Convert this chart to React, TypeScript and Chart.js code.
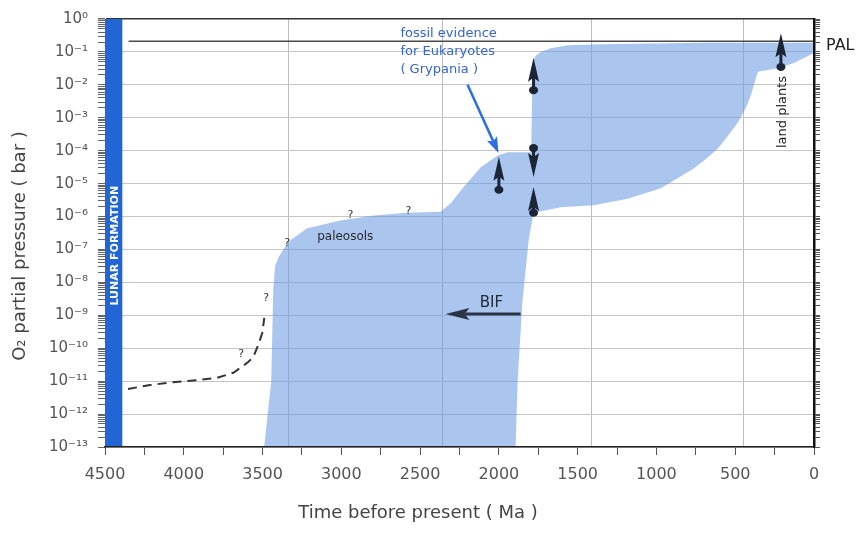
import React, { useEffect, useRef } from "react";
import { Chart, registerables } from "chart.js";

Chart.register(...registerables);

// ---------------- data ----------------
// O2 envelope (closed outline, Ma before present / bar)
const envelopeMa = [3490, 3445, 3432, 3420, 3400, 3369, 3324, 3216, 3006, 2797, 2581, 2371, 2307, 2225, 2117, 2008, 1945, 1795, 1786, 1767, 1735, 1672, 1564, 1354, 700, 0, 0, 127, 229, 356, 400, 432, 483, 547, 610, 686, 763, 972, 1182, 1398, 1608, 1780, 1811, 1850, 1881, 1894];
const envelopeBar = [1e-13, 1e-11, 6.3e-9, 3.2e-8, 5.6e-8, 1.0e-7, 1.9e-7, 4.4e-7, 7.6e-7, 1.07e-6, 1.3e-6, 1.4e-6, 2.5e-6, 7.8e-6, 3.1e-5, 7.2e-5, 8.9e-5, 8.9e-5, 0.046, 0.076, 0.1, 0.13, 0.16, 0.17, 0.19, 0.19, 0.093, 0.046, 0.032, 0.025, 0.0049, 0.002, 7.2e-4, 2.8e-4, 1.17e-4, 5.6e-5, 2.9e-5, 7.2e-6, 3.5e-6, 2.2e-6, 1.9e-6, 1.3e-6, 1.9e-7, 2.8e-9, 1e-11, 1e-13];

// early (dashed) estimate
const earlyMa = [4354, 4214, 4068, 3916, 3788, 3686, 3642, 3591, 3559, 3527, 3502, 3489];
const earlyBar = [5.8e-12, 7.6e-12, 9.3e-12, 1.07e-11, 1.26e-11, 1.8e-11, 2.5e-11, 3.8e-11, 5.4e-11, 1.26e-10, 2.9e-10, 8.3e-10];

// present atmospheric level
const palMa = [4350, 0];
const palBar = [0.21, 0.21];

// axis ticks
const xTickValues = [0, 250, 500, 750, 1000, 1250, 1500, 1750, 2000, 2250, 2500, 2750, 3000, 3250, 3500, 3750, 4000, 4250, 4500];
const xLabelValues = [0, 500, 1000, 1500, 2000, 2500, 3000, 3500, 4000, 4500];
const yDecadeExponents = [0, -1, -2, -3, -4, -5, -6, -7, -8, -9, -10, -11, -12, -13];
const yMinorMultipliers = [1, 2, 3, 4, 5, 6, 7, 8, 9];
const verticalGridMa = [3337, 2358, 1417, 451];

// evidence markers (arrow tip / dot)
const markerMa = [2000, 1780, 1780, 1780, 210];
const markerTipBar = [6.5e-5, 0.066, 1.6e-5, 7.9e-6, 0.37];
const markerBaseBar = [6.5e-6, 6.9e-3, 1.2e-4, 1.3e-6, 0.035];

// question marks
const questionMa = [3636, 3477, 3343, 2943, 2574];
const questionBar = [6.6e-11, 3.3e-9, 1.6e-7, 1.1e-6, 1.5e-6];

// annotations
const lunarFormationMa = [4500, 4390];
const lunarLabelBar = 1.3e-7;
const paleosolsAt = [2975, 2.4e-7];
const bifLabelAt = [2047, 2.3e-9];
const bifArrowMa = [1862, 2339];
const bifArrowBar = [1.1e-9, 1.1e-9];
const eukaryoteLines = ["fossil evidence", "for Eukaryotes", "( Grypania )"];
const eukaryoteLineBar = [0.35, 0.1, 0.028];
const eukaryoteTextMa = 2625;
const eukaryoteArrowMa = [2199, 2002];
const eukaryoteArrowBar = [0.01, 8.5e-5];
const landPlantsAt = [197, 1.5e-3];

// ---------------- helpers ----------------
const FONT = '"DejaVu Sans", "Liberation Sans", Arial, sans-serif';
const SUP: Record<string, string> = { "-": "⁻", "0": "⁰", "1": "¹", "2": "²", "3": "³", "4": "⁴", "5": "⁵", "6": "⁶", "7": "⁷", "8": "⁸", "9": "⁹" };
const sup = (n: number) => String(n).split("").map((c) => SUP[c] || c).join("");
const isDecade = (v: number) => Math.abs(Math.log10(v) - Math.round(Math.log10(v))) < 1e-9;
const yTickValues: number[] = [];
yDecadeExponents.forEach((e) => yMinorMultipliers.forEach((m) => { const v = m * Math.pow(10, e); if (v <= 1.0000001) yTickValues.push(v); }));

function arrow(ctx: CanvasRenderingContext2D, x1: number, y1: number, x2: number, y2: number, color: string, width: number, headLen: number, headW: number) {
  const ang = Math.atan2(y2 - y1, x2 - x1);
  const bx = x2 - Math.cos(ang) * headLen * 0.8;
  const by = y2 - Math.sin(ang) * headLen * 0.8;
  ctx.save();
  ctx.strokeStyle = color;
  ctx.fillStyle = color;
  ctx.lineWidth = width;
  ctx.beginPath();
  ctx.moveTo(x1, y1);
  ctx.lineTo(bx, by);
  ctx.stroke();
  const px = -Math.sin(ang), py = Math.cos(ang);
  const hx = x2 - Math.cos(ang) * headLen, hy = y2 - Math.sin(ang) * headLen;
  ctx.beginPath();
  ctx.moveTo(x2, y2);
  ctx.lineTo(hx + px * headW / 2, hy + py * headW / 2);
  ctx.lineTo(bx, by);
  ctx.lineTo(hx - px * headW / 2, hy - py * headW / 2);
  ctx.closePath();
  ctx.fill();
  ctx.restore();
}

const overlayPlugin = {
  id: "overlay",
  beforeDraw(chart: any) {
    const { ctx, chartArea: a, scales } = chart;
    ctx.save();
    ctx.fillStyle = "#ffffff";
    ctx.fillRect(0, 0, chart.width, chart.height);
    ctx.strokeStyle = "#bdbdbd";
    ctx.lineWidth = 1;
    verticalGridMa.forEach((ma) => {
      const px = Math.round(scales.x.getPixelForValue(ma)) + 0.5;
      ctx.beginPath();
      ctx.moveTo(px, a.top);
      ctx.lineTo(px, a.bottom);
      ctx.stroke();
    });
    ctx.restore();
  },
  afterDatasetsDraw(chart: any) {
    const { ctx, chartArea: a, scales } = chart;
    const x = scales.x, y = scales.y;
    ctx.save();

    // lunar formation bar
    const lx1 = x.getPixelForValue(lunarFormationMa[0]);
    const lx2 = x.getPixelForValue(lunarFormationMa[1]);
    ctx.fillStyle = "#2166d4";
    ctx.fillRect(lx1, a.top, lx2 - lx1, a.bottom - a.top);
    ctx.save();
    ctx.translate((lx1 + lx2) / 2, y.getPixelForValue(lunarLabelBar));
    ctx.rotate(-Math.PI / 2);
    ctx.fillStyle = "#ffffff";
    ctx.font = `bold 11px ${FONT}`;
    ctx.textAlign = "center";
    ctx.textBaseline = "middle";
    ctx.fillText("LUNAR FORMATION", 0, 1);
    ctx.restore();

    // question marks
    ctx.fillStyle = "#333";
    ctx.font = `11px ${FONT}`;
    ctx.textAlign = "center";
    ctx.textBaseline = "middle";
    questionMa.forEach((ma, i) => ctx.fillText("?", x.getPixelForValue(ma), y.getPixelForValue(questionBar[i])));

    // paleosols
    ctx.font = `12px ${FONT}`;
    ctx.fillStyle = "#2a2a2a";
    ctx.fillText("paleosols", x.getPixelForValue(paleosolsAt[0]), y.getPixelForValue(paleosolsAt[1]));

    // BIF
    ctx.font = `15px ${FONT}`;
    ctx.fillStyle = "#222a3a";
    ctx.fillText("BIF", x.getPixelForValue(bifLabelAt[0]), y.getPixelForValue(bifLabelAt[1]));
    arrow(ctx, x.getPixelForValue(bifArrowMa[0]), y.getPixelForValue(bifArrowBar[0]), x.getPixelForValue(bifArrowMa[1]), y.getPixelForValue(bifArrowBar[1]), "#2b3447", 3, 24, 12);

    // eukaryote text + arrow
    ctx.font = `13px ${FONT}`;
    ctx.fillStyle = "#3565cf";
    ctx.textAlign = "left";
    eukaryoteLines.forEach((t, i) => ctx.fillText(t, x.getPixelForValue(eukaryoteTextMa), y.getPixelForValue(eukaryoteLineBar[i])));
    arrow(ctx, x.getPixelForValue(eukaryoteArrowMa[0]), y.getPixelForValue(eukaryoteArrowBar[0]), x.getPixelForValue(eukaryoteArrowMa[1]), y.getPixelForValue(eukaryoteArrowBar[1]), "#2d6fe0", 2.5, 16, 11);

    // markers
    ctx.fillStyle = "#1b2535";
    ctx.strokeStyle = "#1b2535";
    markerMa.forEach((ma, i) => {
      const px = x.getPixelForValue(ma);
      const ty = y.getPixelForValue(markerTipBar[i]);
      const by = y.getPixelForValue(markerBaseBar[i]);
      const dir = Math.sign(by - ty);
      ctx.lineWidth = 3;
      ctx.beginPath();
      ctx.moveTo(px, ty + dir * 18);
      ctx.lineTo(px, by);
      ctx.stroke();
      ctx.beginPath();
      ctx.moveTo(px, ty);
      ctx.lineTo(px + 5.5, ty + dir * 24);
      ctx.lineTo(px, ty + dir * 20);
      ctx.lineTo(px - 5.5, ty + dir * 24);
      ctx.closePath();
      ctx.fill();
      ctx.beginPath();
      ctx.ellipse(px, by, 4.5, 4, 0, 0, Math.PI * 2);
      ctx.fill();
    });

    // land plants
    ctx.save();
    ctx.translate(x.getPixelForValue(landPlantsAt[0]), y.getPixelForValue(landPlantsAt[1]));
    ctx.rotate(-Math.PI / 2);
    ctx.font = `13px ${FONT}`;
    ctx.fillStyle = "#222";
    ctx.textAlign = "center";
    ctx.textBaseline = "middle";
    ctx.fillText("land plants", 0, 0);
    ctx.restore();

    ctx.restore();
  },
  afterDraw(chart: any) {
    const { ctx, chartArea: a, scales } = chart;
    ctx.save();
    ctx.fillStyle = "#222";
    ctx.font = `16px ${FONT}`;
    ctx.textAlign = "left";
    ctx.textBaseline = "middle";
    ctx.fillText("PAL", a.right + 12, scales.y.getPixelForValue(palBar[1]) + 5);

    ctx.fillStyle = "#444";
    ctx.font = `18px ${FONT}`;
    ctx.textAlign = "center";
    ctx.fillText("Time before present ( Ma )", 418, 513);
    ctx.save();
    ctx.translate(20, 246);
    ctx.rotate(-Math.PI / 2);
    ctx.fillText("O₂ partial pressure ( bar )", 0, 0);
    ctx.restore();
    ctx.restore();
  },
};

export default function App() {
  const canvasRef = useRef<HTMLCanvasElement>(null);

  useEffect(() => {
    const canvas = canvasRef.current;
    if (!canvas) return;
    const chart = new Chart(canvas, {
      type: "scatter",
      data: {
        datasets: [
          {
            label: "O2 envelope",
            data: envelopeMa.map((m, i) => ({ x: m, y: envelopeBar[i] })),
            showLine: true,
            fill: "shape",
            backgroundColor: "rgba(100,152,226,0.55)",
            borderColor: "rgba(0,0,0,0)",
            borderWidth: 0,
            pointRadius: 0,
            tension: 0,
            xAxisID: "x",
            yAxisID: "y",
          } as any,
          {
            label: "PAL",
            data: palMa.map((m, i) => ({ x: m, y: palBar[i] })),
            showLine: true,
            borderColor: "#4a4a4a",
            borderWidth: 1.5,
            pointRadius: 0,
            xAxisID: "x",
            yAxisID: "y",
          },
          {
            label: "early",
            data: earlyMa.map((m, i) => ({ x: m, y: earlyBar[i] })),
            showLine: true,
            borderColor: "#333",
            borderWidth: 2,
            borderDash: [9, 6],
            pointRadius: 0,
            tension: 0,
            xAxisID: "x",
            yAxisID: "y",
          },
        ],
      },
      options: {
        animation: false,
        responsive: false,
        layout: { padding: { top: 19, left: 0, right: 0, bottom: 0 } },
        plugins: { legend: { display: false }, tooltip: { enabled: false } },
        scales: {
          x: {
            type: "linear",
            position: "bottom",
            reverse: true,
            min: 0,
            max: 4500,
            afterBuildTicks: (s: any) => { s.ticks = xTickValues.map((v) => ({ value: v })); },
            afterFit: (s: any) => { s.height = 86; },
            ticks: {
              autoSkip: false,
              maxRotation: 0,
              padding: 10,
              color: "#555",
              font: { family: FONT, size: 16 },
              callback: (v: any) => (xLabelValues.includes(Number(v)) ? String(v) : ""),
            },
            grid: { drawOnChartArea: false, drawTicks: true, tickLength: 8, color: "#555", tickColor: "#555" },
            border: { display: true, color: "#222", width: 1.5, z: 1 },
          },
          y: {
            type: "logarithmic",
            position: "left",
            min: 1e-13,
            max: 1,
            afterBuildTicks: (s: any) => { s.ticks = yTickValues.map((v) => ({ value: v })); },
            afterFit: (s: any) => { s.width = 105; },
            ticks: {
              autoSkip: false,
              padding: 10,
              color: "#555",
              font: { family: FONT, size: 15 },
              callback: (v: any) => (isDecade(Number(v)) ? "10" + sup(Math.round(Math.log10(Number(v)))) : ""),
            },
            grid: {
              drawTicks: true,
              tickLength: 7,
              color: (c: any) => {
                const v = c.tick ? c.tick.value : 0.5;
                if (!isDecade(v)) return "rgba(0,0,0,0)";
                return v >= 1 ? "#333" : "#c6c6c6";
              },
              lineWidth: (c: any) => (c.tick && c.tick.value >= 1 ? 1.5 : 1),
              tickColor: "#666",
            },
            border: { display: true, color: "#333", width: 1 },
          },
          y2: {
            type: "logarithmic",
            position: "right",
            min: 1e-13,
            max: 1,
            afterBuildTicks: (s: any) => { s.ticks = yTickValues.map((v) => ({ value: v })); },
            afterFit: (s: any) => { s.width = 44; },
            ticks: { display: false },
            grid: { drawOnChartArea: false, drawTicks: true, tickLength: 6, color: "#555", tickColor: "#555" },
            border: { display: true, color: "#111", width: 2.5, z: 1 },
          },
        },
      } as any,
      plugins: [overlayPlugin],
    });
    return () => chart.destroy();
  }, []);

  return (
    <div style={{ position: "absolute", left: 0, top: 0, width: 858, height: 533, background: "#fff" }}>
      <canvas ref={canvasRef} width={858} height={533} style={{ display: "block", width: 858, height: 533 }} />
    </div>
  );
}
